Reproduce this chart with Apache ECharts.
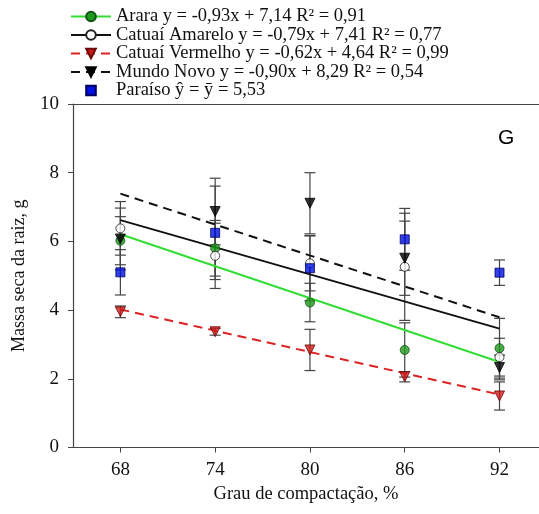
<!DOCTYPE html>
<html><head><meta charset="utf-8">
<script src="https://cdn.jsdelivr.net/npm/echarts@6/dist/echarts.min.js"></script>
<style>html,body{margin:0;padding:0;background:#fff}#c{width:539px;height:514px}</style>
</head><body><div id="c"></div>
<script>
// ---- data ----
const xValues = [68, 74, 80, 86, 92];
const xTickValues = [68, 74, 80, 86, 92];

const araraMean    = [6.02, 5.80, 4.22, 2.84, 2.89];
const araraErr     = [0.70, 0.81, 0.56, 0.79, 0.87];
const amareloMean  = [6.38, 5.58, 5.36, 5.26, 2.63];
const amareloErr   = [0.78, 0.95, 0.80, 1.56, 0.55];
const vermelhoMean = [3.95, 3.37, 2.84, 2.06, 1.50];
const vermelhoErr  = [0.17, 0.10, 0.60, 0.15, 0.41];
const mundoMean    = [6.07, 6.87, 7.11, 5.51, 2.33];
const mundoErr     = [0.90, 0.97, 0.89, 1.08, 0.36];
const paraisoMean  = [5.10, 6.25, 5.22, 6.06, 5.09];
const paraisoErr   = [0.66, 1.36, 0.95, 0.90, 0.37];

// regression line end points (at 68 and 92)
const fitX        = [68, 92];
const araraFit    = [6.21, 2.49];
const amareloFit  = [6.62, 3.46];
const vermelhoFit = [4.02, 1.54];
const mundoFit    = [7.39, 3.79];

const names = [
  'Arara y = -0,93x + 7,14 R² = 0,91',
  'Catuaí Amarelo y = -0,79x + 7,41 R² = 0,77',
  'Catuaí Vermelho y = -0,62x + 4,64 R² = 0,99',
  'Mundo Novo y = -0,90x + 8,29 R² = 0,54',
  'Paraíso ŷ = ȳ = 5,53'
];

// ---- helpers ----
const pair = (xs, ys) => xs.map((x, i) => [x, ys[i]]);
const errColor = '#444';
function errSeries(mean, err) {
  return {
    type: 'custom', silent: true, z: 2,
    data: xValues.map((x, i) => [x, mean[i] - err[i], mean[i] + err[i]]),
    encode: { x: 0, y: [1, 2] },
    renderItem(params, api) {
      const x = api.value(0), lo = api.value(1), hi = api.value(2);
      const a = api.coord([x, lo]), b = api.coord([x, hi]);
      const w = 5.5, st = { stroke: errColor, lineWidth: 1.2 };
      return { type: 'group', children: [
        { type: 'line', shape: { x1: a[0], y1: a[1], x2: b[0], y2: b[1] }, style: st },
        { type: 'line', shape: { x1: a[0] - w, y1: a[1], x2: a[0] + w, y2: a[1] }, style: st },
        { type: 'line', shape: { x1: b[0] - w, y1: b[1], x2: b[0] + w, y2: b[1] }, style: st }
      ]};
    }
  };
}
function fitSeries(name, ys, lineColor, dashed, symbol, itemStyle, rot) {
  return {
    type: 'line', name, data: ys ? pair(fitX, ys) : [], z: 3,
    showSymbol: false, symbol, symbolSize: 9, symbolRotate: rot || 0,
    itemStyle, lineStyle: { color: lineColor, width: 2, type: dashed ? [9, 6] : 'solid' },
    silent: true
  };
}
function markSeries(name, ys, symbol, itemStyle, rot, size) {
  return {
    type: 'scatter', name, data: pair(xValues, ys), z: 5,
    symbol, symbolSize: size || 9, symbolRotate: rot || 0, itemStyle, silent: true
  };
}

const stAra = { color: '#1e9a1e', borderColor: '#145214', borderWidth: 1 };
const stAma = { color: '#ffffff', borderColor: '#222', borderWidth: 1 };
const stVer = { color: '#d01818', borderColor: '#6a0a0a', borderWidth: 1 };
const stMun = { color: '#000000', borderColor: '#000', borderWidth: 1 };
const stPar = { color: '#0010e0', borderColor: '#000060', borderWidth: 1 };

const serif = 'Liberation Serif, Times New Roman, serif';
const axisCol = '#444';

const chart = echarts.init(document.getElementById('c'), null, { renderer: 'canvas' });
chart.setOption({
  animation: false,
  backgroundColor: '#fff',
  grid: { left: 73, right: 0, top: 104, bottom: 66.5, containLabel: false },
  legend: {
    orient: 'vertical', left: 65, top: 2, itemWidth: 40, itemHeight: 12, itemGap: -0.5,
    selectedMode: false,
    data: names,
    textStyle: { fontFamily: serif, fontSize: 18.5, color: '#111', lineHeight: 17.5 }
  },
  xAxis: [{
    type: 'value', min: 65, max: 94.5,
    name: 'Grau de compactação, %', nameLocation: 'middle', nameGap: 36,
    nameTextStyle: { fontFamily: serif, fontSize: 18.5, color: '#111' },
    axisLine: { show: true, lineStyle: { color: axisCol, width: 1.2 } },
    axisTick: { show: true, inside: false, length: 5, customValues: xTickValues, lineStyle: { color: axisCol } },
    axisLabel: { customValues: xTickValues, fontFamily: serif, fontSize: 19, color: '#111', margin: 13 },
    splitLine: { show: false }
  }, {
    type: 'value', position: 'top', min: 65, max: 94.5,
    axisLine: { show: true, lineStyle: { color: axisCol, width: 1.2 } },
    axisTick: { show: false }, axisLabel: { show: false }, splitLine: { show: false }
  }],
  yAxis: {
    type: 'value', min: 0, max: 10, interval: 2,
    name: 'Massa seca da raiz, g', nameLocation: 'middle', nameGap: 45,
    nameTextStyle: { fontFamily: serif, fontSize: 18, color: '#111' },
    axisLine: { show: true, lineStyle: { color: axisCol, width: 1.2 } },
    axisTick: { show: true, inside: false, length: 5, lineStyle: { color: axisCol } },
    axisLabel: { fontFamily: serif, fontSize: 19, color: '#111', margin: 14 },
    splitLine: { show: false }
  },
  graphic: [{
    type: 'text', left: 498, top: 128,
    style: { text: 'G', font: '21px Liberation Sans, Arial, sans-serif', fill: '#000' }
  }],
  series: [
    errSeries(araraMean, araraErr),
    errSeries(amareloMean, amareloErr),
    errSeries(vermelhoMean, vermelhoErr),
    errSeries(mundoMean, mundoErr),
    errSeries(paraisoMean, paraisoErr),
    fitSeries(names[0], araraFit, '#33dd33', false, 'circle', stAra),
    fitSeries(names[1], amareloFit, '#111', false, 'circle', stAma),
    fitSeries(names[2], vermelhoFit, '#dd2222', true, 'triangle', stVer, 180),
    fitSeries(names[3], mundoFit, '#111', true, 'triangle', stMun, 180),
    fitSeries(names[4], null, 'rgba(0,0,0,0)', false, 'rect', stPar),
    markSeries(names[0], araraMean, 'circle', stAra),
    markSeries(names[1], amareloMean, 'circle', stAma),
    markSeries(names[2], vermelhoMean, 'triangle', stVer, 180, 10),
    markSeries(names[3], mundoMean, 'triangle', stMun, 180, 10),
    markSeries(names[4], paraisoMean, 'rect', stPar, 0, 9)
  ]
});
</script></body></html>
